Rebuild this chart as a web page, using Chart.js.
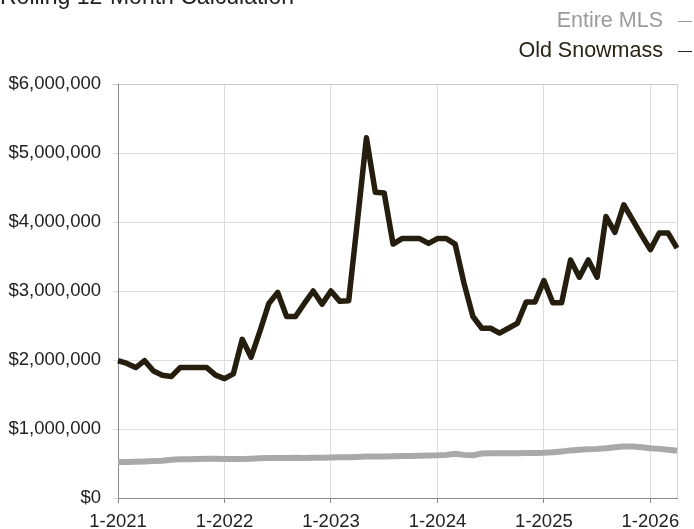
<!DOCTYPE html>
<html>
<head>
<meta charset="utf-8">
<title>Rolling 12-Month Calculation</title>
<script src="https://cdn.jsdelivr.net/npm/chart.js@4.4.1/dist/chart.umd.min.js"></script>
<style>
    body { margin: 0; background: #fff; font-family: "Liberation Sans", Arial, sans-serif; }
    .wrap { position: relative; width: 694px; height: 529px; overflow: hidden; }
    .chart-title { position: absolute; left: 0; top: -17px; font-size: 23px; color: #222; white-space: nowrap; }
    .legend { position: absolute; right: 2px; font-size: 21.5px; white-space: nowrap; }
    .legend .dash { display: inline-block; width: 14px; height: 0; border-top: 1.5px solid; vertical-align: middle; margin-left: 15px; }
    .legend-mls { top: 8px; color: #9b9b9b; }
    .legend-os { top: 38px; color: #2a2416; }
    canvas { position: absolute; left: 0; top: 0; }
</style>
</head>
<body>
<div class="wrap">
    <canvas id="priceChart" width="694" height="529"></canvas>
    <div class="chart-title">Rolling 12-Month Calculation</div>
    <div class="legend legend-mls">Entire MLS<span class="dash"></span></div>
    <div class="legend legend-os">Old Snowmass<span class="dash"></span></div>
</div>
<script>
// Month labels, 1-2021 through 4-2026
const monthLabels = [
    '1-2021', '2-2021', '3-2021', '4-2021', '5-2021', '6-2021', '7-2021', '8-2021', '9-2021', '10-2021', '11-2021', '12-2021',
    '1-2022', '2-2022', '3-2022', '4-2022', '5-2022', '6-2022', '7-2022', '8-2022', '9-2022', '10-2022', '11-2022', '12-2022',
    '1-2023', '2-2023', '3-2023', '4-2023', '5-2023', '6-2023', '7-2023', '8-2023', '9-2023', '10-2023', '11-2023', '12-2023',
    '1-2024', '2-2024', '3-2024', '4-2024', '5-2024', '6-2024', '7-2024', '8-2024', '9-2024', '10-2024', '11-2024', '12-2024',
    '1-2025', '2-2025', '3-2025', '4-2025', '5-2025', '6-2025', '7-2025', '8-2025', '9-2025', '10-2025', '11-2025', '12-2025',
    '1-2026', '2-2026', '3-2026', '4-2026'
];

// Only these get a label + gridline
const xTickLabels = ['1-2021', '1-2022', '1-2023', '1-2024', '1-2025', '1-2026'];

const yTicks = [0, 1000000, 2000000, 3000000, 4000000, 5000000, 6000000];

// Old Snowmass, rolling 12-month average price
const oldSnowmass = [
    1990000, 1950000, 1890000, 1990000, 1840000, 1780000, 1760000, 1890000, 1890000, 1890000, 1890000, 1780000,
    1730000, 1800000, 2300000, 2040000, 2420000, 2820000, 2980000, 2630000, 2630000, 2820000, 3000000, 2810000,
    3000000, 2850000, 2860000, 4030000, 5220000, 4430000, 4420000, 3680000, 3760000, 3760000, 3760000, 3690000,
    3760000, 3760000, 3680000, 3110000, 2630000, 2460000, 2460000, 2390000, 2460000, 2530000, 2840000, 2840000,
    3150000, 2830000, 2830000, 3450000, 3200000, 3450000, 3200000, 4080000, 3850000, 4250000, 4030000, 3810000,
    3600000, 3840000, 3840000, 3620000
];

// Entire MLS, rolling 12-month average price
const entireMls = [
    520000, 520000, 525000, 530000, 535000, 540000, 555000, 560000, 560000, 565000, 570000, 570000,
    565000, 565000, 565000, 570000, 575000, 580000, 580000, 580000, 582000, 580000, 582000, 585000,
    588000, 590000, 592000, 595000, 600000, 600000, 602000, 605000, 608000, 608000, 612000, 615000,
    618000, 625000, 640000, 625000, 618000, 645000, 648000, 650000, 650000, 650000, 652000, 652000,
    655000, 662000, 675000, 690000, 700000, 705000, 712000, 722000, 735000, 745000, 745000, 735000,
    720000, 712000, 698000, 685000
];

document.addEventListener('DOMContentLoaded', () => {
    initializePriceChart();
});

function isYearStart(index) {
    return xTickLabels.includes(monthLabels[index]);
}

function initializePriceChart() {
    const ctx = document.getElementById('priceChart').getContext('2d');
    const axisFont = { family: '"Liberation Sans", Arial, sans-serif', size: 18.5 };
    const lastIndex = monthLabels.length - 1;

    new Chart(ctx, {
        type: 'line',
        data: {
            labels: monthLabels,
            datasets: [
                {
                    label: 'Entire MLS',
                    data: entireMls,
                    borderColor: '#a9a9a9',
                    borderWidth: 6,
                    pointRadius: 0,
                    tension: 0,
                    borderJoinStyle: 'round'
                },
                {
                    label: 'Old Snowmass',
                    data: oldSnowmass,
                    borderColor: '#251d0d',
                    borderWidth: 5.5,
                    pointRadius: 0,
                    tension: 0,
                    borderJoinStyle: 'round'
                }
            ]
        },
        options: {
            responsive: false,
            animation: false,
            layout: {
                padding: { top: 84, right: 17, bottom: 0, left: 0 }
            },
            plugins: {
                legend: { display: false },
                title: { display: false },
                tooltip: { enabled: false }
            },
            scales: {
                x: {
                    type: 'category',
                    offset: false,
                    afterFit: (scale) => { scale.height = 31; },
                    border: { color: '#8a8a8a', width: 1 },
                    grid: {
                        color: (c) => {
                            if (c.index === lastIndex) return '#d4d4d4';
                            return isYearStart(c.index) ? '#dddddd' : 'rgba(0,0,0,0)';
                        },
                        tickColor: (c) => isYearStart(c.index) ? '#8a8a8a' : 'rgba(0,0,0,0)',
                        tickLength: 5
                    },
                    ticks: {
                        autoSkip: false,
                        maxRotation: 0,
                        minRotation: 0,
                        padding: 8,
                        color: '#222',
                        font: axisFont,
                        callback: function(value, index) {
                            return isYearStart(index) ? monthLabels[index] : '';
                        }
                    }
                },
                y: {
                    min: 0,
                    max: 6000000,
                    afterFit: (scale) => { scale.width = 118; },
                    afterBuildTicks: (scale) => {
                        scale.ticks = yTicks.map(v => ({ value: v }));
                    },
                    border: { color: '#8a8a8a', width: 1 },
                    grid: {
                        color: (c) => c.tick && c.tick.value === 6000000 ? '#c8c8c8' : '#dddddd',
                        tickLength: 5
                    },
                    ticks: {
                        padding: 12,
                        color: '#222',
                        font: axisFont,
                        callback: function(value) {
                            return '$' + value.toLocaleString('en-US');
                        }
                    }
                }
            }
        }
    });
}
</script>
</body>
</html>
